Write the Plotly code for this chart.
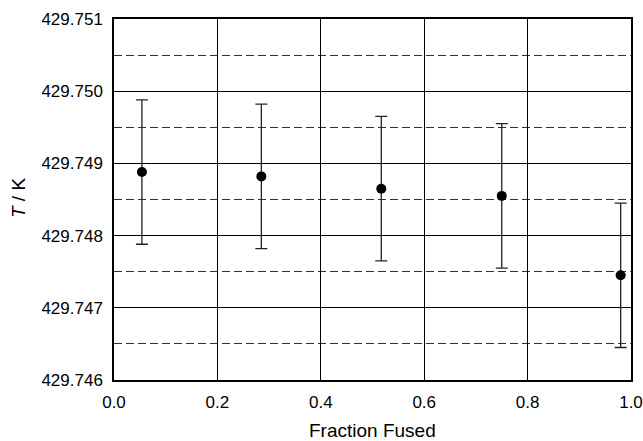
import plotly.graph_objects as go

# Melting temperature versus fraction of sample fused
fraction_fused = [0.054, 0.285, 0.517, 0.750, 0.980]
temperature_K = [429.74888, 429.74882, 429.74865, 429.74855, 429.74745]
uncertainty_K = [0.0010, 0.0010, 0.0010, 0.0010, 0.0010]

y_ticks = [429.746, 429.747, 429.748, 429.749, 429.750, 429.751]
x_ticks = [0.0, 0.2, 0.4, 0.6, 0.8, 1.0]

x_title = "Fraction Fused"
y_title = "<i>T</i> / K"

font_family = "Liberation Sans, Arial, sans-serif"

fig = go.Figure()
fig.add_trace(go.Scatter(
    x=fraction_fused,
    y=temperature_K,
    mode="markers",
    marker=dict(color="black", size=10),
    error_y=dict(type="data", array=uncertainty_K, visible=True,
                 color="#222222", thickness=1.3, width=6),
    showlegend=False,
))

fig.update_layout(
    width=643, height=441,
    margin=dict(l=114, r=12, t=19, b=61, autoexpand=False),
    plot_bgcolor="white", paper_bgcolor="white",
    font=dict(family=font_family, size=17, color="black"),
    xaxis=dict(
        range=[0, 1],
        tickvals=x_ticks,
        ticktext=[f"{v:.1f}" for v in x_ticks],
        showgrid=True, gridcolor="black", gridwidth=1.4,
        showline=True, linecolor="black", linewidth=1.5, mirror=True,
        ticks="", ticklen=0, ticklabelstandoff=6,
        zeroline=False, automargin=False,
    ),
    yaxis=dict(
        range=[429.746, 429.751],
        tickvals=y_ticks,
        ticktext=[f"{v:.3f}" for v in y_ticks],
        showgrid=True, gridcolor="black", gridwidth=1.4,
        showline=True, linecolor="black", linewidth=1.5, mirror=True,
        ticks="", ticklen=0, ticklabelstandoff=6,
        zeroline=False, automargin=False,
        minor=dict(tick0=429.7455, dtick=0.001, showgrid=True,
                   gridcolor="#333333", gridwidth=1.1, griddash="8px,4px"),
    ),
    annotations=[
        # axis titles placed relative to the plotting area
        dict(text=x_title, xref="paper", yref="paper", x=0.5, y=0,
             xanchor="center", yanchor="middle", yshift=-50,
             showarrow=False, font=dict(size=19)),
        dict(text=y_title, xref="paper", yref="paper", x=0, y=0.504,
             xanchor="center", yanchor="middle", xshift=-96, textangle=-90,
             showarrow=False, font=dict(size=19)),
    ],
)

fig.write_html("out.html")
